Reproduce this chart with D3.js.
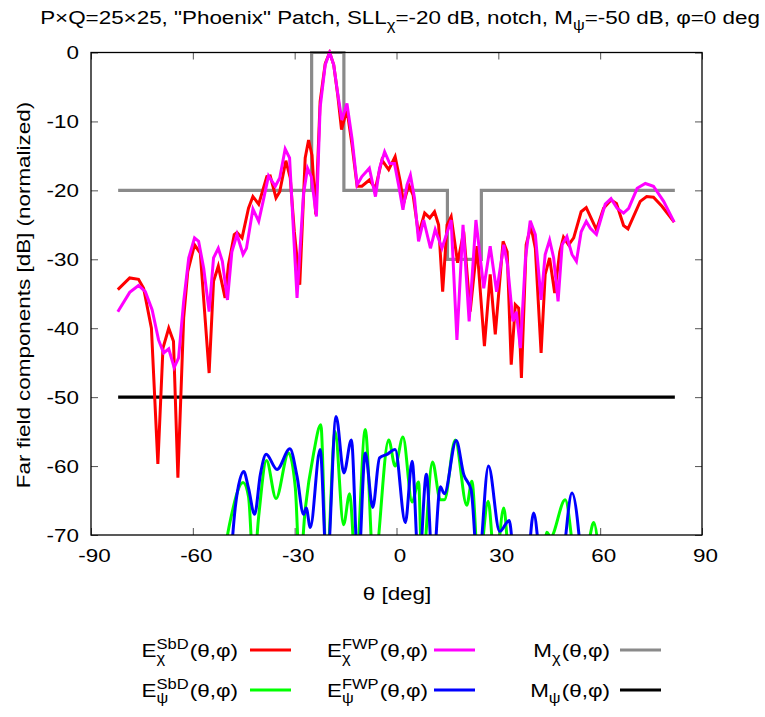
<!DOCTYPE html>
<html>
<head>
<meta charset="utf-8">
<script src="https://d3js.org/d3.v7.min.js"></script>
<style>
  body { margin: 0; background: #fff; }
  text { font-family: "Liberation Sans", Arial, sans-serif; }
</style>
</head>
<body>
<svg width="765" height="717" id="mainSvg"></svg>
<script>
// theta [deg], level [dB]
const sbdChi = [
  [-82.1,-34.4],[-78.6,-32.7],[-76.0,-32.9],[-74.5,-34.2],[-72.2,-40.0],[-70.3,-59.7],[-68.8,-42.9],[-67.1,-40.0],
  [-65.7,-41.9],[-64.4,-61.7],[-62.7,-38.5],[-61.5,-31.8],[-59.5,-27.9],[-57.8,-29.1],[-55.2,-46.5],[-53.9,-33.2],
  [-52.5,-31.0],[-50.5,-35.6],[-49.5,-30.8],[-47.8,-26.4],[-47.0,-26.1],[-45.5,-26.9],[-43.6,-22.6],[-42.3,-20.9],
  [-40.6,-22.0],[-38.2,-18.0],[-37.2,-17.9],[-35.5,-21.1],[-34.4,-20.2],[-32.6,-15.7],[-31.3,-18.2],[-30.1,-26.0],
  [-28.5,-33.7],[-26.9,-15.3],[-25.9,-12.7],[-24.9,-14.9],[-23.8,-23.5],[-22.5,-7.1],[-21.0,-1.6],[-19.7,0],
  [-18.5,-1.8],[-17.3,-6.2],[-16.2,-11.2],[-14.6,-8.3],[-13.1,-13.4],[-11.6,-19.4],[-10.2,-19.4],[-8.0,-18.5],
  [-6.2,-19.7],[-4.3,-15.6],[-2.3,-17.0],[-0.4,-15.1],[1.1,-18.7],[2.1,-21.9],[3.6,-19.2],[4.9,-20.7],
  [6.5,-26.4],[8.3,-23.3],[9.8,-24.0],[11.2,-23.1],[12.4,-25.0],[13.6,-34.7],[14.9,-25.0],[16.1,-23.8],
  [18.0,-30.5],[19.8,-26.0],[21.7,-37.6],[23.7,-28.1],[25.9,-42.6],[27.6,-32.2],[29.1,-40.9],[31.4,-27.4],
  [32.6,-28.9],[33.8,-45.3],[35.0,-36.6],[36.0,-37.1],[36.8,-47.2],[38.2,-27.9],[39.6,-25.2],[40.9,-28.4],
  [42.6,-43.6],[43.8,-32.2],[45.1,-29.8],[46.6,-34.9],[48.1,-28.9],[49.2,-26.8],[50.7,-27.9],[52.2,-26.9],
  [54.4,-23.1],[55.9,-22.5],[58.9,-25.7],[61.0,-22.6],[63.2,-21.4],[64.8,-21.9],[66.9,-25.1],[68.2,-25.6],
  [71.8,-21.6],[73.7,-20.9],[75.7,-21.0],[78.2,-22.3],[81.8,-24.6]
];
const fwpChi = [
  [-82.1,-37.6],[-78.6,-34.8],[-76.0,-33.8],[-74.0,-34.7],[-72.0,-37.3],[-70.1,-41.7],[-68.6,-43.6],[-67.1,-43.0],
  [-65.5,-45.7],[-64.2,-44.3],[-62.7,-36.1],[-61.2,-29.8],[-59.5,-26.9],[-58.3,-27.4],[-56.8,-31.3],[-55.2,-37.6],
  [-53.9,-29.8],[-52.5,-28.4],[-51.3,-30.3],[-49.8,-35.9],[-48.5,-28.9],[-47.0,-26.4],[-45.2,-29.3],[-44.2,-28.4],
  [-42.3,-22.7],[-40.6,-24.5],[-39.3,-21.6],[-37.7,-17.9],[-35.7,-19.4],[-34.4,-18.2],[-32.8,-14.0],[-31.5,-15.3],
  [-29.3,-35.6],[-27.4,-20.5],[-26.2,-16.8],[-25.1,-18.0],[-23.6,-23.8],[-22.5,-8.0],[-21.0,-1.8],[-19.7,0],
  [-18.5,-1.8],[-17.3,-6.0],[-16.1,-9.8],[-14.6,-7.4],[-13.1,-12.5],[-11.6,-19.2],[-10.2,-18.0],[-8.0,-16.8],
  [-6.2,-20.9],[-5.0,-16.8],[-3.5,-14.4],[-2.0,-16.1],[-0.6,-16.1],[0.6,-19.2],[1.9,-22.8],[3.1,-19.2],
  [4.1,-17.8],[5.3,-21.1],[6.5,-27.4],[8.0,-24.3],[10.0,-28.4],[11.4,-25.7],[13.4,-28.4],[16.1,-24.3],
  [17.8,-41.7],[19.6,-25.0],[21.4,-39.0],[23.4,-24.3],[25.7,-34.2],[27.6,-28.1],[29.5,-34.7],[31.6,-27.9],
  [32.7,-30.8],[34.3,-39.0],[35.3,-37.6],[36.5,-42.9],[38.0,-29.8],[39.4,-24.4],[40.9,-26.4],[42.6,-35.9],
  [43.8,-29.3],[45.1,-27.2],[46.3,-29.8],[47.6,-36.1],[48.8,-27.9],[50.2,-26.7],[51.7,-29.3],[53.0,-30.3],
  [54.4,-26.0],[55.9,-24.5],[57.1,-25.5],[58.9,-26.4],[61.5,-22.0],[63.2,-21.2],[65.0,-22.6],[66.9,-23.3],
  [68.4,-22.6],[70.9,-19.7],[73.3,-19.0],[75.7,-19.4],[78.7,-21.6],[81.8,-24.6]
];
// values under -70 fall outside the plot and get clipped
const sbdPsi = [
  [-51.5,-75],[-49.0,-68.0],[-45.2,-62.4],[-43.6,-64.4],[-42.1,-75],[-40.6,-67.3],[-38.3,-59.2],[-35.5,-64.7],
  [-31.8,-58.1],[-29.8,-63.2],[-28.5,-75],[-26.9,-66.3],[-24.4,-58.1],[-22.3,-54.0],[-20.6,-75],[-18.1,-55.0],
  [-15.6,-68.5],[-13.8,-64.0],[-12.0,-75],[-9.2,-54.7],[-6.7,-75],[-2.3,-56.2],[-0.4,-60.0],[1.9,-55.8],
  [4.6,-65.2],[6.5,-62.3],[7.5,-75],[10.6,-59.4],[12.9,-64.9],[14.1,-64.9],[17.3,-56.2],[20.7,-65.7],
  [22.2,-62.2],[24.2,-75],[27.0,-65.1],[29.1,-75],[31.6,-66.1],[33.5,-75],[42.8,-75],[44.3,-69.6],
  [45.4,-70.3],[49.7,-64.9],[53.2,-75],[56.6,-71.0],[58.1,-68.2],[60.0,-75]
];
const fwpPsi = [
  [-49.0,-75],[-47.5,-66.0],[-45.0,-60.8],[-43.6,-63.2],[-41.8,-67.0],[-40.1,-61.2],[-38.4,-58.3],[-35.2,-60.5],
  [-31.4,-57.5],[-29.3,-61.5],[-27.4,-67.0],[-26.6,-66.1],[-25.4,-68.9],[-22.5,-57.6],[-20.5,-75],[-17.8,-52.8],
  [-15.5,-61.0],[-13.3,-56.2],[-11.3,-75],[-9.2,-58.1],[-7.0,-66.0],[-5.0,-58.8],[-2.8,-58.3],[-0.4,-57.6],
  [2.6,-68.2],[4.6,-59.3],[6.6,-75],[8.8,-61.2],[10.7,-75],[12.9,-63.0],[14.1,-64.0],[17.6,-56.3],
  [19.8,-61.2],[22.0,-63.5],[24.0,-75],[27.1,-60.0],[30.4,-69.5],[33.2,-67.9],[35.0,-75],[38.3,-75],
  [40.4,-66.8],[42.9,-75],[48.3,-75],[51.7,-63.9],[54.7,-75]
];
const maskChi = [
  [-82,-20],[-25,-20],[-25,0],[-15.5,0],[-15.5,-20],[15,-20],[15,-30],[25,-30],[25,-20],[82,-20]
];
const maskPsi = [[-82,-50],[82,-50]];

const xTicks = [-90,-60,-30,0,30,60,90];
const yTicks = [0,-10,-20,-30,-40,-50,-60,-70];

const svg = d3.select("#mainSvg");
const pLeft = 91, pRight = 702, pTop = 52.5, pBottom = 535;
const fs = 19;       // base font size
const wide = 1.18;   // the reference font runs wider than Liberation Sans

// stretch a text along its own direction
function stretch(sel) {
  sel.each(function() {
    const L = this.getComputedTextLength();
    d3.select(this).attr("textLength", L * wide).attr("lengthAdjust", "spacingAndGlyphs");
  });
}

const x = d3.scaleLinear().domain([-90, 90]).range([pLeft, pRight]);
const y = d3.scaleLinear().domain([-70, 0]).range([pBottom, pTop]);

svg.append("clipPath").attr("id", "plotClip")
  .append("rect").attr("x", pLeft).attr("y", pTop - 3)
  .attr("width", pRight - pLeft).attr("height", pBottom - pTop + 3);

// title
const title = svg.append("g").attr("transform", `translate(400,24) scale(${wide},1)`)
  .append("text").attr("text-anchor", "middle").attr("font-size", fs);
title.append("tspan").text('P×Q=25×25, "Phoenix" Patch, SLL');
title.append("tspan").text("χ").attr("font-size", 14).attr("dy", 6);
title.append("tspan").text("=-20 dB, notch, M").attr("dy", -6);
title.append("tspan").text("ψ").attr("font-size", 14).attr("dy", 6);
title.append("tspan").text("=-50 dB, φ=0 deg").attr("dy", -6);

// axes (gnuplot style: ticks inside, mirrored)
const xAxis = svg.append("g").attr("transform", `translate(0,${pBottom})`)
  .call(d3.axisBottom(x).tickValues(xTicks).tickSizeInner(-7).tickSizeOuter(0).tickPadding(14));
const yAxis = svg.append("g").attr("transform", `translate(${pLeft},0)`)
  .call(d3.axisLeft(y).tickValues(yTicks).tickSizeInner(-7).tickSizeOuter(0).tickPadding(12));
svg.append("g").attr("transform", `translate(0,${pTop})`)
  .call(d3.axisTop(x).tickValues(xTicks).tickSizeInner(-7).tickSizeOuter(0).tickFormat(""));
svg.append("g").attr("transform", `translate(${pRight},0)`)
  .call(d3.axisRight(y).tickValues(yTicks).tickSizeInner(-7).tickSizeOuter(0).tickFormat(""));

svg.selectAll(".domain").remove();
svg.selectAll(".tick line").attr("stroke", "#555").attr("stroke-width", 1);
svg.selectAll(".tick text").attr("font-size", fs).attr("fill", "#000")
  .attr("font-family", '"Liberation Sans", Arial, sans-serif')
  .text(function() { return d3.select(this).text().replace("−", "-"); });
xAxis.selectAll(".tick text").attr("dx", 3);
stretch(svg.selectAll(".tick text"));

// axis titles
svg.append("g").attr("transform", "translate(30,295) rotate(-90)")
  .append("text").attr("text-anchor", "middle").attr("font-size", fs)
  .text("Far field components [dB] (normalized)")
  .call(stretch);
svg.append("text")
  .attr("x", 397).attr("y", 600)
  .attr("text-anchor", "middle").attr("font-size", fs)
  .text("θ [deg]")
  .call(stretch);

// curves
const lineSharp = d3.line().x(d => x(d[0])).y(d => y(d[1]));
const lineSmooth = d3.line().x(d => x(d[0])).y(d => y(d[1])).curve(d3.curveMonotoneX);
const plot = svg.append("g").attr("clip-path", "url(#plotClip)");

const series = [
  {data: maskChi, color: "#8a8a8a", width: 3.2, gen: lineSharp},
  {data: maskPsi, color: "#000000", width: 3.4, gen: lineSharp},
  {data: sbdChi, color: "#ff0000", width: 3, gen: lineSharp},
  {data: fwpChi, color: "#ff00ff", width: 3, gen: lineSharp},
  {data: sbdPsi, color: "#00ff00", width: 3, gen: lineSmooth},
  {data: fwpPsi, color: "#0000ff", width: 3, gen: lineSmooth}
];
plot.selectAll("path.curve").data(series).enter().append("path")
  .attr("class", "curve")
  .attr("d", d => d.gen(d.data))
  .attr("fill", "none")
  .attr("stroke", d => d.color)
  .attr("stroke-width", d => d.width)
  .attr("stroke-linejoin", "miter");

// frame
svg.append("rect")
  .attr("x", pLeft).attr("y", pTop)
  .attr("width", pRight - pLeft).attr("height", pBottom - pTop)
  .attr("fill", "none").attr("stroke", "#000").attr("stroke-width", 1.3);

// legend: label ends at tx, sample line starts at lx
const legendItems = [
  {sym: "E", sup: "SbD", sub: "χ", color: "#ff0000", tx: 238, lx: 250, row: 0},
  {sym: "E", sup: "SbD", sub: "ψ", color: "#00ff00", tx: 238, lx: 250, row: 1},
  {sym: "E", sup: "FWP", sub: "χ", color: "#ff00ff", tx: 428, lx: 434, row: 0},
  {sym: "E", sup: "FWP", sub: "ψ", color: "#0000ff", tx: 428, lx: 434, row: 1},
  {sym: "M", sup: "", sub: "χ", color: "#8a8a8a", tx: 610, lx: 620, row: 0},
  {sym: "M", sup: "", sub: "ψ", color: "#000000", tx: 610, lx: 620, row: 1}
];
const legend = svg.append("g");
legendItems.forEach(it => {
  const ly = 650 + it.row * 40;
  const g = legend.append("g");
  const inner = g.append("g");
  const base = inner.append("text").attr("x", 0).attr("y", 7).attr("font-size", fs).text(it.sym);
  const w0 = base.node().getComputedTextLength();
  let w1 = 0;
  if (it.sup) {
    const s = inner.append("text").attr("x", w0).attr("y", -1).attr("font-size", 14).text(it.sup);
    w1 = s.node().getComputedTextLength();
  }
  const sb = inner.append("text").attr("x", w0).attr("y", 13).attr("font-size", 14).text(it.sub);
  w1 = Math.max(w1, sb.node().getComputedTextLength());
  const tail = inner.append("text").attr("x", w0 + w1 + 1).attr("y", 7).attr("font-size", fs).text("(θ,φ)");
  const total = w0 + w1 + 1 + tail.node().getComputedTextLength();
  g.attr("transform", `translate(${it.tx - total * wide},${ly}) scale(${wide},1)`);
  legend.append("line")
    .attr("x1", it.lx).attr("x2", it.lx + 41)
    .attr("y1", ly).attr("y2", ly)
    .attr("stroke", it.color).attr("stroke-width", 3);
});
</script>
</body>
</html>
